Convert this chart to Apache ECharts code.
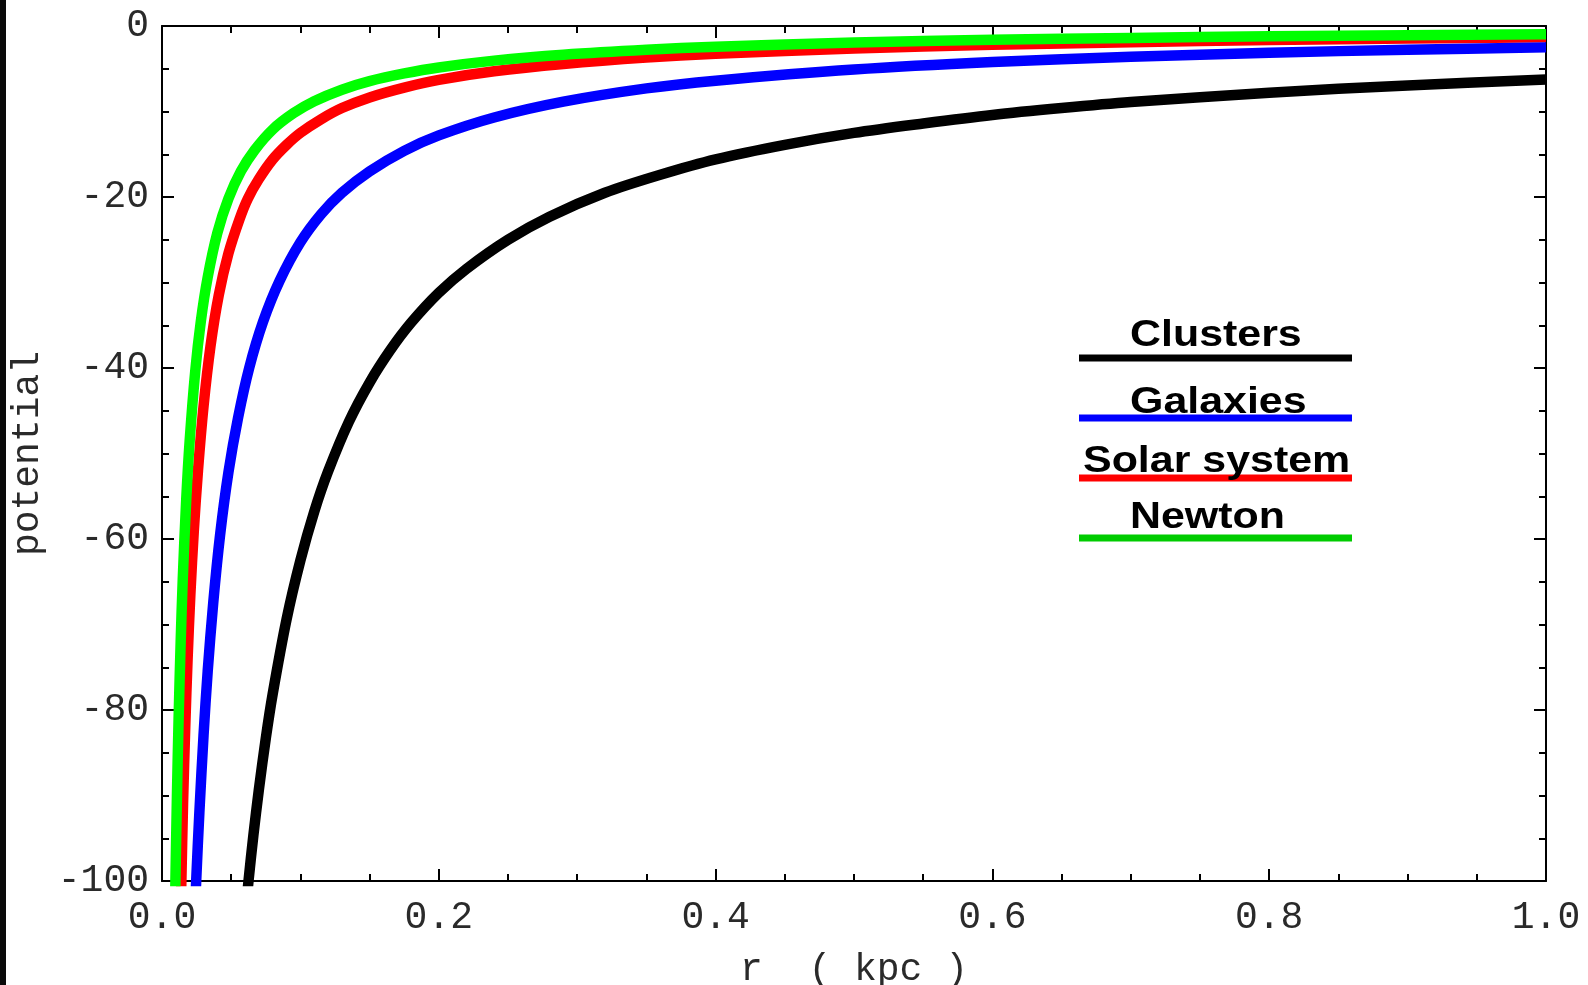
<!DOCTYPE html>
<html>
<head>
<meta charset="utf-8">
<script src="https://cdn.jsdelivr.net/npm/echarts@6/dist/echarts.min.js"></script>
<style>html,body{margin:0;padding:0;background:#fff;}#chart{width:1588px;height:985px;}</style>
</head>
<body>
<div id="chart"></div>
<script>
// Values: [r (kpc), potential]
const clusters = [[0.059,-106],[0.0625,-100],[0.066,-94.7],[0.07,-89.3],[0.075,-83.3],[0.08,-78.1],[0.09,-69.4],[0.10,-62.5],[0.11,-56.8],[0.12,-52.1],[0.135,-46.3],[0.15,-41.7],[0.165,-37.9],[0.18,-34.7],[0.20,-31.2],[0.22,-28.4],[0.25,-25],[0.28,-22.3],[0.32,-19.5],[0.36,-17.4],[0.40,-15.6],[0.45,-13.9],[0.50,-12.5],[0.55,-11.4],[0.60,-10.4],[0.65,-9.6],[0.70,-8.9],[0.80,-7.8],[0.90,-6.95],[1.00,-6.25]];
const galaxies = [[0.0238,-104],[0.0247,-100],[0.027,-92],[0.03,-83],[0.033,-75.5],[0.037,-67.5],[0.042,-59.5],[0.048,-52.2],[0.055,-45.8],[0.063,-40],[0.073,-34.6],[0.085,-29.8],[0.10,-25.3],[0.115,-22],[0.13,-19.5],[0.15,-17],[0.175,-14.6],[0.20,-12.8],[0.24,-10.7],[0.29,-8.85],[0.35,-7.3],[0.40,-6.4],[0.50,-5.1],[0.60,-4.22],[0.70,-3.6],[0.80,-3.13],[0.90,-2.77],[1.00,-2.5]];
const solarSystem = [[0.0135,-104],[0.014,-100],[0.0152,-91],[0.0168,-82],[0.0185,-74],[0.0205,-66.5],[0.023,-59],[0.026,-52],[0.03,-44.5],[0.035,-37.5],[0.041,-31.5],[0.048,-26.6],[0.056,-22.6],[0.062,-20.2],[0.07,-17.9],[0.08,-15.6],[0.09,-13.9],[0.10,-12.5],[0.115,-10.9],[0.13,-9.6],[0.15,-8.35],[0.175,-7.2],[0.20,-6.3],[0.24,-5.3],[0.29,-4.45],[0.35,-3.7],[0.40,-3.25],[0.50,-2.62],[0.60,-2.2],[0.70,-1.89],[0.80,-1.65],[0.90,-1.47],[1.00,-1.33]];
const newton = [[0.0093,-104],[0.0097,-100],[0.0108,-90],[0.012,-81],[0.0135,-72],[0.015,-64.7],[0.0175,-55.4],[0.02,-48.5],[0.024,-40.4],[0.028,-34.6],[0.033,-29.4],[0.04,-24.2],[0.048,-20.2],[0.057,-17],[0.067,-14.5],[0.08,-12.1],[0.095,-10.2],[0.11,-8.8],[0.13,-7.45],[0.15,-6.45],[0.175,-5.55],[0.20,-4.85],[0.24,-4.05],[0.29,-3.35],[0.35,-2.77],[0.40,-2.43],[0.50,-1.94],[0.60,-1.62],[0.70,-1.39],[0.80,-1.21],[0.90,-1.08],[1.00,-0.97]];
const seriesNames = ['Clusters','Galaxies','Solar system','Newton'];
const xTickLabels = ['0.0','0.2','0.4','0.6','0.8','1.0'];
const yTickLabels = ['0','-20','-40','-60','-80','-100'];

const chart = echarts.init(document.getElementById('chart'), null, {renderer:'canvas'});
const mono = '"Liberation Mono", "Courier New", monospace';
const tickStyle = {color:'#000', width:2};
function axisCommon(extra){
  return Object.assign({
    axisLine:{show:true, onZero:false, lineStyle:{color:'#000', width:2}},
    axisTick:{show:true, inside:true, length:12, lineStyle:tickStyle},
    minorTick:{show:true, splitNumber:4, length:7, lineStyle:tickStyle},
    splitLine:{show:false}
  }, extra);
}
const legendFont = 'bold 37px "Liberation Sans", Arial, sans-serif';
const option = {
  backgroundColor:'#ffffff',
  animation:false,
  grid:{left:162, right:42, top:26, bottom:104, containLabel:false, outerBoundsMode:'none'},
  xAxis:[
    axisCommon({type:'value', min:0, max:1, interval:0.2, position:'bottom',
      axisLabel:{show:true, margin:18, color:'#2a2a2a', fontFamily:mono, fontSize:38,
        formatter:(v)=> xTickLabels[Math.round(v/0.2)]},
      name:'r  ( kpc )', nameLocation:'middle', nameGap:70,
      nameTextStyle:{color:'#2a2a2a', fontFamily:mono, fontSize:38}}),
    axisCommon({type:'value', min:0, max:1, interval:0.2, position:'top', axisLabel:{show:false}})
  ],
  yAxis:[
    axisCommon({type:'value', min:-100, max:0, interval:20, position:'left',
      axisLabel:{show:true, margin:13, color:'#2a2a2a', fontFamily:mono, fontSize:38,
        formatter:(v)=> yTickLabels[Math.round(-v/20)]},
      name:'potential', nameLocation:'middle', nameGap:104,
      nameTextStyle:{color:'#2a2a2a', fontFamily:mono, fontSize:38}}),
    axisCommon({type:'value', min:-100, max:0, interval:20, position:'right', axisLabel:{show:false}})
  ],
  series:[
    {name:seriesNames[0], type:'line', data:clusters, color:'#000000'},
    {name:seriesNames[2], type:'line', data:solarSystem, color:'#ff0000'},
    {name:seriesNames[1], type:'line', data:galaxies, color:'#0000ff'},
    {name:seriesNames[3], type:'line', data:newton, color:'#00ff00'}
  ].map(s=>Object.assign(s,{xAxisIndex:0, yAxisIndex:0, showSymbol:false, symbol:'none', smooth:0.3, clip:true,
     lineStyle:{width:10.5, color:s.color}})),
  graphic:[
    {type:'rect', shape:{x:0,y:0,width:6,height:985}, style:{fill:'#0a0a0a'}, silent:true},
    {type:'rect', shape:{x:1079,y:354.5,width:273,height:7}, style:{fill:'#000000'}},
    {type:'rect', shape:{x:1079,y:414.5,width:273,height:7}, style:{fill:'#0000ff'}},
    {type:'rect', shape:{x:1079,y:474.5,width:273,height:7}, style:{fill:'#ff0000'}},
    {type:'rect', shape:{x:1079,y:534.5,width:273,height:7}, style:{fill:'#00cc00'}},
    {type:'text', x:1130, y:336, scaleX:1.16, style:{text:seriesNames[0], font:legendFont, fill:'#000', textAlign:'left', textVerticalAlign:'middle'}},
    {type:'text', x:1130, y:403, scaleX:1.16, style:{text:seriesNames[1], font:legendFont, fill:'#000', textAlign:'left', textVerticalAlign:'middle'}},
    {type:'text', x:1083, y:462, scaleX:1.16, style:{text:seriesNames[2], font:legendFont, fill:'#000', textAlign:'left', textVerticalAlign:'middle'}},
    {type:'text', x:1130, y:518, scaleX:1.16, style:{text:seriesNames[3], font:legendFont, fill:'#000', textAlign:'left', textVerticalAlign:'middle'}}
  ]
};
chart.setOption(option);
</script>
</body>
</html>
